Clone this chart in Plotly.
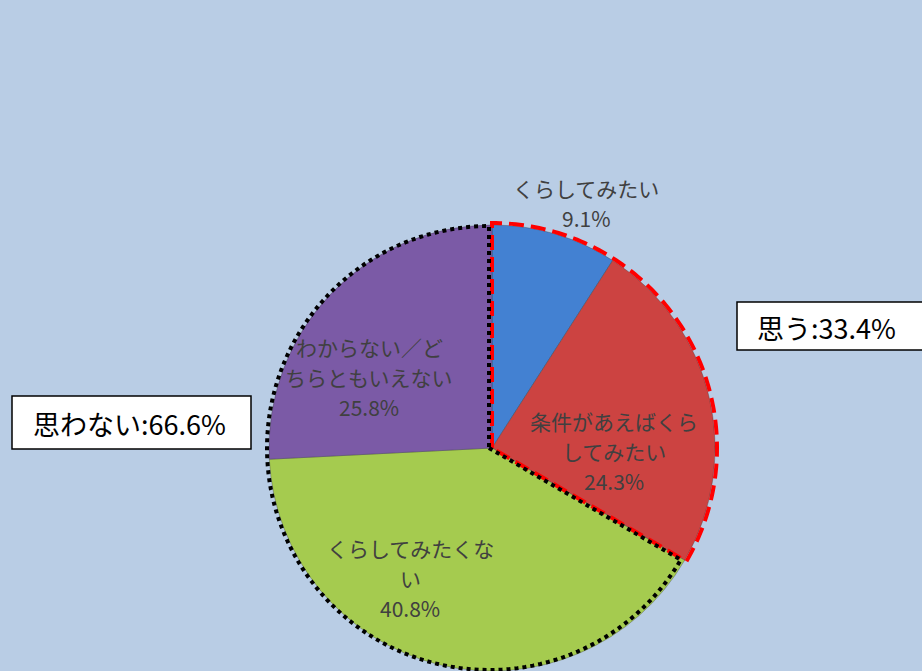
import numpy as np
import plotly.graph_objects as go

# ---- data ----
categories = ["くらしてみたい", "条件があえばくらしてみたい", "くらしてみたくない", "わからない／どちらともいえない"]
label_lines = ["くらしてみたい", "条件があえばくら<br>してみたい", "くらしてみたくな<br>い", "わからない／ど<br>ちらともいえない"]
values = [9.1, 24.3, 40.8, 25.8]
colors = ["#4381D2", "#CC4341", "#A5CB4F", "#7B5AA6"]
group_labels = ["思う", "思わない"]
group_values = [33.4, 66.6]

W, H = 922, 671
CX, CY, R = 492, 448, 223  # pie geometry in px
LINE_H = 30


def px(x, y):
    return x / W, 1 - y / H


fig = go.Figure()
fig.add_trace(go.Pie(
    labels=categories,
    values=values,
    sort=False,
    direction="clockwise",
    rotation=0,
    marker=dict(colors=colors, line=dict(color="rgba(60,60,60,0.35)", width=1)),
    textinfo="none",
    hoverinfo="label+percent",
    showlegend=False,
    domain=dict(x=[(CX - R) / W, (CX + R) / W], y=[0, 2 * R / H]),
))

# slice labels (one annotation per line for the wider line spacing)
label_pos = [(586, 203), (614, 451), (410, 578), (369, 377)]
annotations = []
for txt, v, (lx, ly) in zip(label_lines, values, label_pos):
    lines = txt.split("<br>") + [f"{v:.1f}%"]
    n = len(lines)
    for i, line in enumerate(lines):
        x, y = px(lx, ly + (i - (n - 1) / 2) * LINE_H)
        annotations.append(dict(
            x=x, y=y, xref="paper", yref="paper", showarrow=False,
            xanchor="center", yanchor="middle",
            text=line, align="center",
            font=dict(family="Noto Sans CJK JP", size=21, color="#404040"),
        ))

# group outlines computed from data
cum = np.cumsum([0] + values) / sum(values)
split = cum[2]


def sector_path(f0, f1, rr, dx=0.0):
    angs = np.linspace(f0, f1, 120) * 2 * np.pi
    xs = CX + dx + rr * np.sin(angs)
    ys = CY - rr * np.cos(angs)
    pts = [px(CX + dx, CY)] + [px(a, b) for a, b in zip(xs, ys)] + [px(CX + dx, CY)]
    return "M " + " L ".join(f"{a:.5f},{b:.5f}" for a, b in pts) + " Z"


shapes = [
    dict(type="path", xref="paper", yref="paper", path=sector_path(0, split, R + 2),
         line=dict(color="#FF0000", width=4, dash="15px,7px")),
    dict(type="path", xref="paper", yref="paper", path=sector_path(split, 1.0, R - 1, dx=-3),
         line=dict(color="#000000", width=4, dash="4px,4px")),
]

# group boxes
x0, y1 = px(737, 302)
x1, y0 = px(930, 350)
shapes.append(dict(type="rect", xref="paper", yref="paper", x0=x0, x1=x1, y0=y0, y1=y1,
                   fillcolor="white", line=dict(color="black", width=1.5)))
x0, y1 = px(12, 396)
x1, y0 = px(251, 449)
shapes.append(dict(type="rect", xref="paper", yref="paper", x0=x0, x1=x1, y0=y0, y1=y1,
                   fillcolor="white", line=dict(color="black", width=1.5)))

for g, gv, (tx, ty) in zip(group_labels, group_values, [(755, 327), (31, 423)]):
    x, y = px(tx, ty)
    annotations.append(dict(
        x=x, y=y, xref="paper", yref="paper", xanchor="left", yanchor="middle",
        showarrow=False,
        text=f"{g}:{gv:.1f}%",
        font=dict(family="Noto Sans CJK JP", size=27, color="#000000"),
    ))

fig.update_layout(
    width=W, height=H,
    margin=dict(l=0, r=0, t=0, b=0),
    paper_bgcolor="#B9CDE5",
    plot_bgcolor="#B9CDE5",
    shapes=shapes,
    annotations=annotations,
)

fig.write_html(
    "out.html",
    config={"displayModeBar": False},
    post_script="document.body.style.margin='0';document.body.style.background='#B9CDE5';",
)
